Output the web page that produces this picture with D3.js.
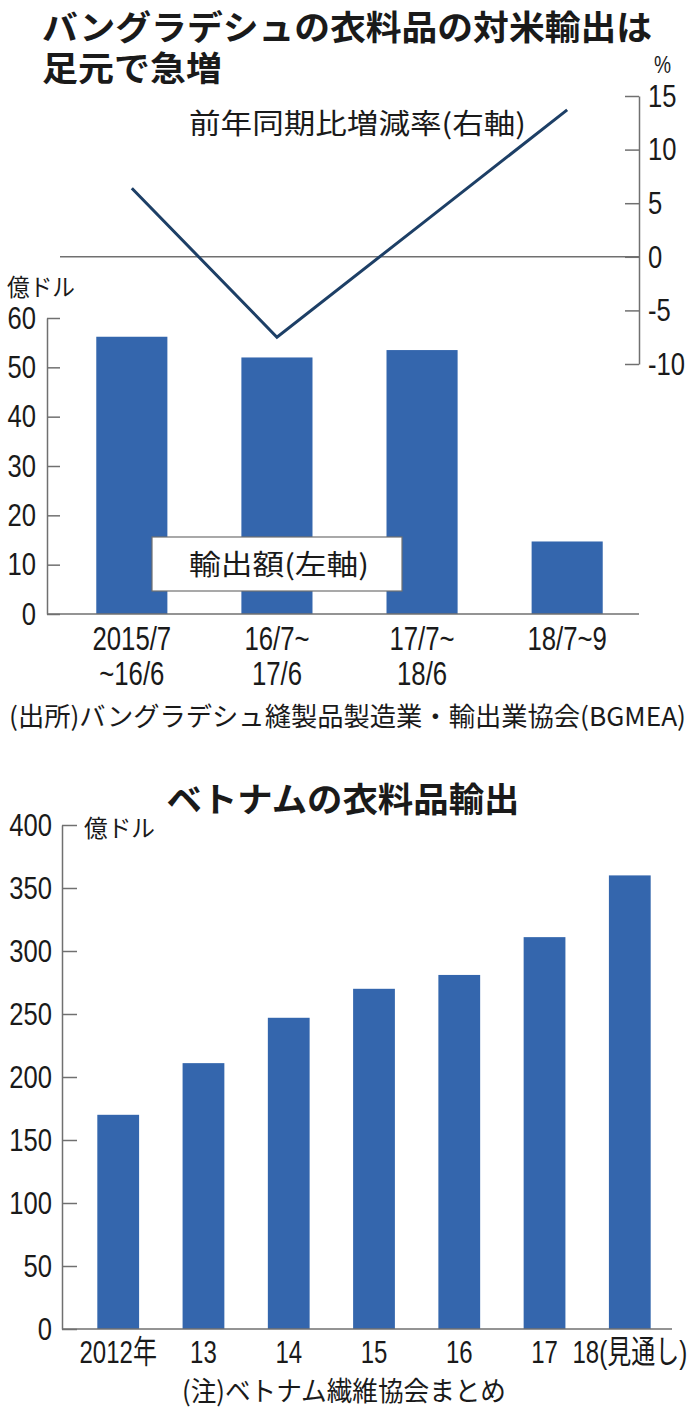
<!DOCTYPE html>
<html>
<head>
<meta charset="utf-8">
<script src="https://cdn.jsdelivr.net/npm/d3@7"></script>
<style>
  body { margin: 0; background: #fff; }
  text { fill: #1a1a1a; }
  .jp { font-family: "Noto Sans CJK JP", sans-serif; }
  .num { font-family: "Liberation Sans", Arial, "Noto Sans CJK JP", sans-serif; }
</style>
</head>
<body>
<svg id="chart" width="696" height="1414"></svg>
<script>
// バングラデシュ（対米輸出）
const bdPeriods = [["2015/7", "~16/6"], ["16/7~", "17/6"], ["17/7~", "18/6"], ["18/7~9"]];
const bdExports = [56.2, 52.0, 53.5, 14.7];
const bdGrowth = [6.4, -7.5, 3.1, 13.7];
const bdLeftTicks = [0, 10, 20, 30, 40, 50, 60];
const bdRightTicks = [-10, -5, 0, 5, 10, 15];

// ベトナム
const vnYears = ["2012年", "13", "14", "15", "16", "17", "18(見通し)"];
const vnExports = [170, 211, 247, 270, 281, 311, 360];
const vnTicks = [0, 50, 100, 150, 200, 250, 300, 350, 400];

const W = 696;
const BAR = "#3466ad";
const LINE = "#1d3f66";
const AXIS = "#707070";
const NARROW = 0.8;

const svg = d3.select("#chart");

// squeeze text horizontally, the source uses a condensed face
const condense = function(sel, k) {
  sel.each(function() {
    const w = this.getComputedTextLength() * k;
    d3.select(this)
      .attr("textLength", w)
      .attr("lengthAdjust", "spacingAndGlyphs");
  });
};

const styleAxis = function(g, size) {
  g.selectAll("path, line").attr("stroke", AXIS).attr("stroke-width", 1.5);
  g.selectAll("text")
    .attr("class", "num")
    .attr("font-size", size)
    .attr("fill", "#1a1a1a")
    .call(condense, NARROW);
};

// ---------- top chart ----------
const drawBangladesh = function() {
  const x = d3.scaleBand()
    .domain(d3.range(bdExports.length))
    .range([60, 639])
    .paddingInner(0.51)
    .paddingOuter(0.25);
  const yL = d3.scaleLinear().domain([0, 60]).range([614, 318]);
  const yR = d3.scaleLinear().domain([-10, 15]).range([364, 96]);

  svg.append("text").attr("class", "jp")
    .attr("x", 42).attr("y", 40)
    .attr("font-size", 34).attr("font-weight", 700)
    .attr("textLength", 610).attr("lengthAdjust", "spacingAndGlyphs")
    .text("バングラデシュの衣料品の対米輸出は");
  svg.append("text").attr("class", "jp")
    .attr("x", 42).attr("y", 81)
    .attr("font-size", 34).attr("font-weight", 700)
    .attr("textLength", 180).attr("lengthAdjust", "spacingAndGlyphs")
    .text("足元で急増");

  // zero line of right axis
  svg.append("line")
    .attr("x1", 60).attr("x2", 639)
    .attr("y1", yR(0)).attr("y2", yR(0))
    .attr("stroke", AXIS).attr("stroke-width", 1.5);

  svg.append("g")
    .selectAll("rect")
    .data(bdExports)
    .join("rect")
    .attr("x", (d, i) => x(i))
    .attr("y", d => yL(d))
    .attr("width", x.bandwidth())
    .attr("height", d => yL(0) - yL(d))
    .attr("fill", BAR);

  // baseline
  svg.append("line")
    .attr("x1", 47).attr("x2", 639)
    .attr("y1", yL(0)).attr("y2", yL(0))
    .attr("stroke", AXIS).attr("stroke-width", 1.5);

  const left = svg.append("g")
    .attr("transform", "translate(47,0)")
    .call(d3.axisLeft(yL).tickValues(bdLeftTicks).tickFormat(d => String(d))
      .tickSizeInner(-13).tickSizeOuter(0).tickPadding(11));
  styleAxis(left, 32);

  const right = svg.append("g")
    .attr("transform", "translate(639,0)")
    .call(d3.axisRight(yR).tickValues(bdRightTicks).tickFormat(d => String(d))
      .tickSizeInner(-14).tickSizeOuter(0).tickPadding(9));
  styleAxis(right, 32);

  svg.append("text").attr("class", "num")
    .attr("x", 654).attr("y", 73)
    .attr("font-size", 24)
    .text("%")
    .call(condense, NARROW);

  const line = d3.line()
    .x((d, i) => x(i) + x.bandwidth() / 2)
    .y(d => yR(d));
  svg.append("path")
    .datum(bdGrowth)
    .attr("d", line)
    .attr("fill", "none")
    .attr("stroke", LINE)
    .attr("stroke-width", 3);

  svg.append("text").attr("class", "jp")
    .attr("x", 189).attr("y", 134)
    .attr("font-size", 28)
    .attr("textLength", 337).attr("lengthAdjust", "spacingAndGlyphs")
    .text("前年同期比増減率(右軸)");

  svg.append("text").attr("class", "jp")
    .attr("x", 7).attr("y", 296)
    .attr("font-size", 24)
    .attr("textLength", 68).attr("lengthAdjust", "spacingAndGlyphs")
    .text("億ドル");

  // legend box
  svg.append("rect")
    .attr("x", 152).attr("y", 537)
    .attr("width", 250).attr("height", 54)
    .attr("fill", "#fff")
    .attr("stroke", AXIS).attr("stroke-width", 1.2);
  svg.append("text").attr("class", "jp")
    .attr("x", 189).attr("y", 575)
    .attr("font-size", 28)
    .attr("textLength", 180).attr("lengthAdjust", "spacingAndGlyphs")
    .text("輸出額(左軸)");

  const labelRows = bdPeriods.flatMap((lines, i) => lines.map((t, j) => ({ t, i, j })));
  svg.append("g")
    .selectAll("text")
    .data(labelRows)
    .join("text")
    .attr("class", "num")
    .attr("font-size", 33)
    .attr("text-anchor", "middle")
    .attr("x", d => x(d.i) + x.bandwidth() / 2)
    .attr("y", d => 650 + d.j * 35)
    .text(d => d.t)
    .call(condense, 0.78);

  svg.append("text").attr("class", "jp")
    .attr("x", 9).attr("y", 726)
    .attr("font-size", 26)
    .attr("textLength", 677).attr("lengthAdjust", "spacingAndGlyphs")
    .text("(出所)バングラデシュ縫製品製造業・輸出業協会(BGMEA)");
};

// ---------- bottom chart ----------
const drawVietnam = function() {
  const x = d3.scaleBand()
    .domain(vnYears)
    .range([76, 672])
    .paddingInner(0.51)
    .paddingOuter(0.25);
  const y = d3.scaleLinear().domain([0, 400]).range([1329, 825]);
  const cx = d => x(d) + x.bandwidth() / 2;

  svg.append("text").attr("class", "jp")
    .attr("x", 343).attr("y", 812)
    .attr("text-anchor", "middle")
    .attr("font-size", 34).attr("font-weight", 700)
    .attr("textLength", 353).attr("lengthAdjust", "spacingAndGlyphs")
    .text("ベトナムの衣料品輸出");

  svg.append("g")
    .selectAll("rect")
    .data(vnExports)
    .join("rect")
    .attr("x", (d, i) => x(vnYears[i]))
    .attr("y", d => y(d))
    .attr("width", x.bandwidth())
    .attr("height", d => y(0) - y(d))
    .attr("fill", BAR);

  svg.append("line")
    .attr("x1", 62).attr("x2", 672)
    .attr("y1", y(0)).attr("y2", y(0))
    .attr("stroke", AXIS).attr("stroke-width", 1.5);

  const left = svg.append("g")
    .attr("transform", "translate(62,0)")
    .call(d3.axisLeft(y).tickValues(vnTicks).tickFormat(d => String(d))
      .tickSizeInner(-15).tickSizeOuter(0).tickPadding(10));
  styleAxis(left, 32);

  svg.append("text").attr("class", "jp")
    .attr("x", 84).attr("y", 837)
    .attr("font-size", 24)
    .attr("textLength", 71).attr("lengthAdjust", "spacingAndGlyphs")
    .text("億ドル");

  svg.append("g")
    .selectAll("text")
    .data(vnYears)
    .join("text")
    .attr("class", "num")
    .attr("font-size", 32)
    .attr("text-anchor", "middle")
    .attr("x", cx)
    .attr("y", 1363)
    .text(d => d)
    .call(condense, 0.75)
    .each(function(d) {
      // keep the widest label inside the right edge
      const half = +this.getAttribute("textLength") / 2;
      if (cx(d) + half > W - 8) {
        d3.select(this).attr("text-anchor", "end").attr("x", W - 10);
      }
    });

  svg.append("text").attr("class", "jp")
    .attr("x", 344).attr("y", 1401)
    .attr("text-anchor", "middle")
    .attr("font-size", 27)
    .attr("textLength", 324).attr("lengthAdjust", "spacingAndGlyphs")
    .text("(注)ベトナム繊維協会まとめ");
};

drawBangladesh();
drawVietnam();
</script>
</body>
</html>
